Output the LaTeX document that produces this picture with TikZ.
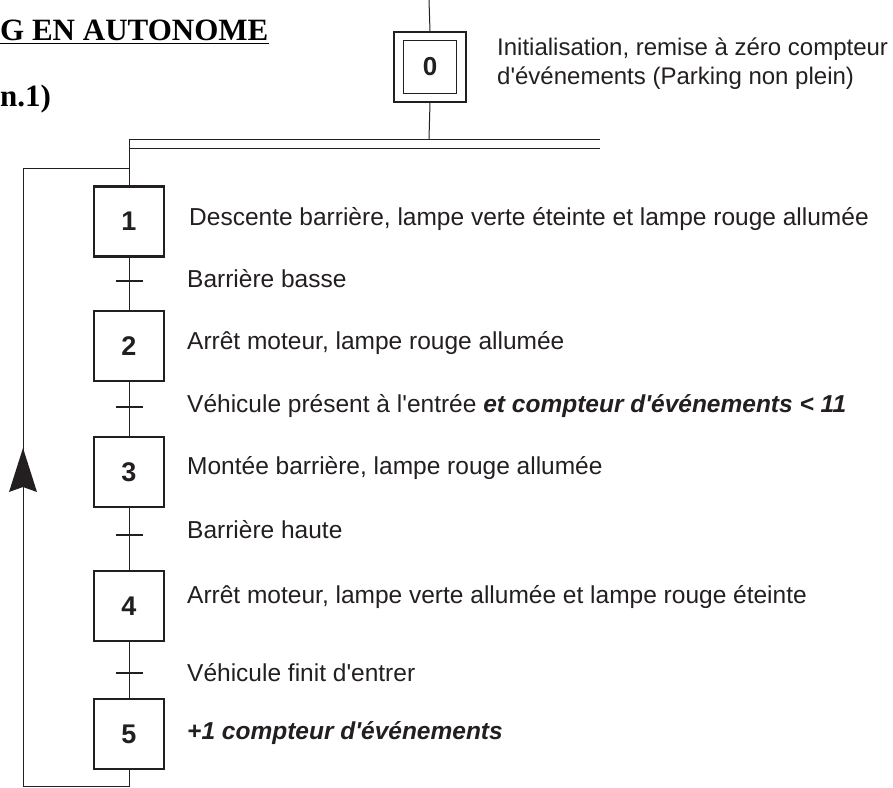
\documentclass[tikz,border=0pt]{standalone}
\usepackage{fontspec}
\setmainfont{Liberation Sans}[Ligatures=TeXOff]
\newfontfamily\titlefont{Liberation Serif}
\definecolor{ink}{RGB}{35,31,32}
\begin{document}
\begin{tikzpicture}[x=1pt,y=-1pt,
  stepbox/.style={draw=ink, line width=2.3pt, minimum width=70pt, minimum height=70pt, inner sep=0pt, text=ink, font=\fontsize{27}{30}\selectfont\bfseries},
  lbl/.style={anchor=west, inner sep=0pt, text=ink, font=\fontsize{24.5}{28}\selectfont},
  emph/.style={font=\fontsize{24.5}{28}\selectfont\bfseries\itshape},
  conn/.style={draw=ink, line width=1pt},
  trans/.style={draw=ink, line width=2pt},
  ttl/.style={anchor=base west, inner sep=0pt, font=\titlefont\fontsize{31}{36}\selectfont\bfseries}]
\useasboundingbox (0,0) rectangle (893,787);
% title
\node[ttl] (title) at (0,40) {G EN AUTONOME};
\draw[line width=1.5pt] ([yshift=-3.5pt]title.base west) -- ([yshift=-3.5pt]title.base east);
\node[ttl] (sub) at (0,106) {n.1)};
% step 0
\node[draw=ink, line width=1.2pt, minimum width=72pt, minimum height=70pt, inner sep=0pt] (s0o) at (430,67) {};
\node[draw=ink, line width=1.2pt, minimum width=53pt, minimum height=53pt, inner sep=0pt, text=ink, font=\fontsize{26}{28}\selectfont\bfseries] (s0) at (430,67) {0};
\node[lbl, align=left, font=\fontsize{24}{29}\selectfont] (l0) at (497,64) {Initialisation, remise à zéro compteur\\d'événements (Parking non plein)};
\coordinate (top0) at (429,0);
\coordinate (d0) at (429,139);
\draw[conn] (top0) -- (s0o.north);
\draw[conn] (s0o.south) -- (d0);
% double line
\coordinate (dtl) at (129,139);
\coordinate (dtr) at (600,139);
\coordinate (dbl) at (129,148);
\coordinate (dbr) at (600,148);
\draw[conn] (dtl) -- (dtr);
\draw[conn] (dbl) -- (dbr);
% steps
\node[stepbox] (s1) at (129,221.5) {1};
\node[stepbox] (s2) at (129,346) {2};
\node[stepbox] (s3) at (129,472) {3};
\node[stepbox] (s4) at (129,606) {4};
\node[stepbox] (s5) at (129,734) {5};
\draw[conn] (dtl) -- (s1.north);
\draw[conn] (s1.south) -- (s2.north);
\draw[conn] (s2.south) -- (s3.north);
\draw[conn] (s3.south) -- (s4.north);
\draw[conn] (s4.south) -- (s5.north);
% transitions
\foreach \n/\y in {1/281,2/407,3/535,4/673}{
  \coordinate (t\n) at (129,\y);
  \draw[trans] ([xshift=-13.5pt]t\n) -- ([xshift=13.5pt]t\n);
}
% loop
\coordinate (lb) at (129,786);
\coordinate (lbl) at (23,786);
\coordinate (ltl) at (23,168);
\coordinate (ltr) at (129,168);
\draw[conn] (s5.south) -- (lb) -- (lbl) -- (ltl) -- (ltr);
\fill[ink] (23,448) -- (37,492) -- (23,487) -- (9,492) -- cycle;
% labels
\node[lbl] (l1) at (189,219) {Descente barrière, lampe verte éteinte et lampe rouge allumée};
\node[lbl] (lt1) at (187,279) {Barrière basse};
\node[lbl] (l2) at (187,343) {Arrêt moteur, lampe rouge allumée};
\node[lbl] (lt2) at (187,406) {Véhicule présent à l'entrée {\bfseries\itshape et compteur d'événements < 11}};
\node[lbl] (l3) at (187,468) {Montée barrière, lampe rouge allumée};
\node[lbl] (lt3) at (187,530) {Barrière haute};
\node[lbl] (l4) at (187,597) {Arrêt moteur, lampe verte allumée et lampe rouge éteinte};
\node[lbl] (lt4) at (187,673) {Véhicule finit d'entrer};
\node[lbl, emph] (l5) at (187,733) {+1 compteur d'événements};
\end{tikzpicture}
\end{document}
